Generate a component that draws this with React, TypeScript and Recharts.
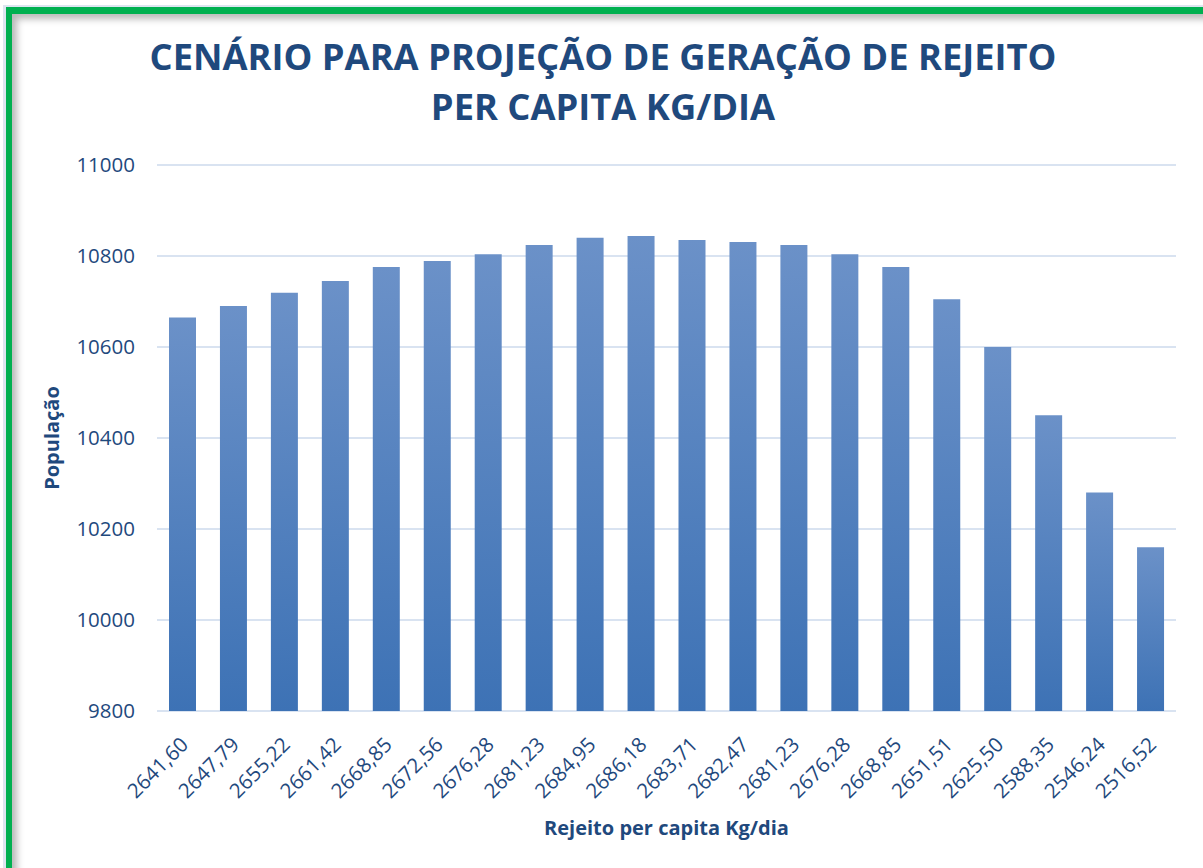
import { BarChart, Bar, XAxis, YAxis, CartesianGrid } from "recharts";

const rejeito = [
  "2641,60", "2647,79", "2655,22", "2661,42", "2668,85",
  "2672,56", "2676,28", "2681,23", "2684,95", "2686,18",
  "2683,71", "2682,47", "2681,23", "2676,28", "2668,85",
  "2651,51", "2625,50", "2588,35", "2546,24", "2516,52",
];

const populacao = [
  10665, 10690, 10719, 10745, 10776,
  10789, 10804, 10824, 10840, 10844,
  10835, 10831, 10824, 10804, 10776,
  10705, 10600, 10450, 10280, 10160,
];

const yTicks = [9800, 10000, 10200, 10400, 10600, 10800, 11000];

const data = rejeito.map((r, i) => ({ rejeito: r, populacao: populacao[i] }));

const azul = "#1F497D";
const fonte = "'Open Sans', sans-serif";

function XTick(props: any) {
  const { x, y, payload } = props;
  return (
    <g transform={`translate(${x + 7},${y + 27})`}>
      <text
        transform="rotate(-45)"
        textAnchor="end"
        fill={azul}
        fontSize={20.5}
        fontFamily={fonte}
      >
        {payload.value}
      </text>
    </g>
  );
}

export default function App() {
  return (
    <div
      style={{
        position: "fixed",
        left: 0,
        top: 0,
        width: 1203,
        height: 868,
        overflow: "hidden",
        background: "#fff",
        fontFamily: fonte,
      }}
    >
      {/* moldura verde */}
      <div
        style={{
          position: "absolute",
          left: 3,
          top: 5,
          width: 1300,
          height: 1000,
          borderLeft: "3px solid #dde5f0",
          borderTop: "2px solid #dde5f0",
        }}
      >
        <div
          style={{
            width: "100%",
            height: "100%",
            borderLeft: "6px solid #00B050",
            borderTop: "7px solid #00B050",
            boxShadow: "inset 5px 5px 7px rgba(0,0,0,0.28)",
          }}
        />
      </div>

      {/* título */}
      <div
        style={{
          position: "absolute",
          left: 0,
          top: 31,
          width: 1206,
          textAlign: "center",
          color: azul,
          fontWeight: 700,
          fontSize: 36.3,
          lineHeight: "50px",
        }}
      >
        CENÁRIO PARA PROJEÇÃO DE GERAÇÃO DE REJEITO
        <br />
        PER CAPITA KG/DIA
      </div>

      <div style={{ position: "absolute", left: 0, top: 0 }}>
        <BarChart
          width={1203}
          height={868}
          data={data}
          margin={{ top: 165, right: 27, bottom: 37, left: 97 }}
          barSize={27}
        >
          <defs>
            <linearGradient id="gradBarra" x1="0" y1="0" x2="0" y2="1">
              <stop offset="0%" stopColor="#6B91C8" />
              <stop offset="100%" stopColor="#3D72B5" />
            </linearGradient>
          </defs>
          <CartesianGrid vertical={false} stroke="#D9E3F1" strokeWidth={2} />
          <XAxis
            dataKey="rejeito"
            height={120}
            axisLine={false}
            tickLine={false}
            interval={0}
            tick={<XTick />}
            label={{
              value: "Rejeito per capita Kg/dia",
              position: "insideBottom",
              offset: -4,
              fill: azul,
              fontSize: 20,
              fontWeight: 700,
              fontFamily: fonte,
            }}
          />
          <YAxis
            width={60}
            domain={[9800, 11000]}
            ticks={yTicks}
            interval={0}
            axisLine={false}
            tickLine={false}
            tickSize={0}
            tickMargin={22}
            tick={{ fill: azul, fontSize: 20.5, fontFamily: fonte }}
            label={{
              value: "População",
              angle: -90,
              position: "center",
              dx: -75,
              fill: azul,
              fontSize: 20,
              fontWeight: 700,
              fontFamily: fonte,
            }}
          />
          <Bar
            dataKey="populacao"
            fill="url(#gradBarra)"
            isAnimationActive={false}
          />
        </BarChart>
      </div>
    </div>
  );
}
